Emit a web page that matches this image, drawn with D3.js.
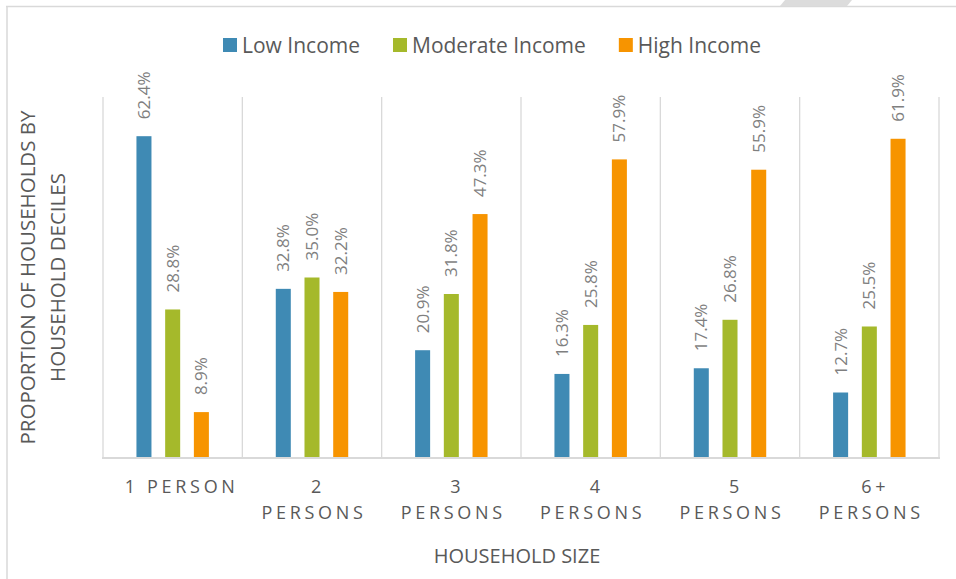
<!DOCTYPE html>
<html lang="en">
<head>
  <meta charset="UTF-8">
  <title>Household size by income</title>
  <script src="https://d3js.org/d3.v7.min.js"></script>
  <style>
    html, body { margin: 0; padding: 0; background: #fff; }
    svg { display: block; font-family: "Open Sans", sans-serif; }
    .cat-label { font-size: 18px; fill: #595959; letter-spacing: 3.7px; text-anchor: middle; }
    .val-label { font-size: 17px; fill: #7f7f7f; }
    .legend-text { font-size: 21px; fill: #595959; }
    .axis-title { font-size: 20.5px; fill: #595959; text-anchor: middle; }
  </style>
</head>
<body>
<svg width="956" height="579"></svg>
<script>
// categories (line breaks as in the original chart)
const categories = ["1 PERSON", "2\nPERSONS", "3\nPERSONS", "4\nPERSONS", "5\nPERSONS", "6+\nPERSONS"];
const series = ["Low Income", "Moderate Income", "High Income"];
const lowIncome      = [62.4, 32.8, 20.9, 16.3, 17.4, 12.7];
const moderateIncome = [28.8, 35.0, 31.8, 25.8, 26.8, 25.5];
const highIncome     = [8.9, 32.2, 47.3, 57.9, 55.9, 61.9];
const colors = ["#3f8ab4", "#a5b92b", "#f79400"];

const values = [lowIncome, moderateIncome, highIncome];

const svg = d3.select("svg");
const grid = "#d9d9d9";

// chart frame + bits of the page above it
svg.append("polygon").attr("points", "785,0 852,0 847,6 780,6").attr("fill", "#dcdcdc");
svg.append("path").attr("d", "M6,6.5H956M7,6V579").attr("stroke", grid).attr("stroke-width", 1.5).attr("fill", "none");

const plot = {left: 103, right: 939, top: 97, bottom: 458};

const x0 = d3.scaleBand().domain(categories).range([plot.left, plot.right]).padding(0);
const x1 = d3.scaleBand().domain(series).range([0, x0.bandwidth()])
  .paddingInner(0.477).paddingOuter(1.165);
const y = d3.scaleLinear().domain([0, 70]).range([plot.bottom, plot.top]);

// vertical gridlines between categories
const bounds = categories.map(c => x0(c)).concat([plot.right]);
svg.append("g").selectAll("line").data(bounds).join("line")
  .attr("x1", d => d).attr("x2", d => d)
  .attr("y1", plot.top).attr("y2", plot.bottom)
  .attr("stroke", grid).attr("stroke-width", 1.3);

// bars
const rows = [];
categories.forEach((c, i) => series.forEach((s, j) => rows.push({c, s, j, v: values[j][i]})));

const g = svg.append("g");
g.selectAll("rect").data(rows).join("rect")
  .attr("x", d => x0(d.c) + x1(d.s))
  .attr("y", d => y(d.v))
  .attr("width", x1.bandwidth())
  .attr("height", d => y(0) - y(d.v))
  .attr("fill", d => colors[d.j]);

// value labels, rotated
g.selectAll("text").data(rows).join("text")
  .attr("class", "val-label")
  .attr("transform", d => {
    const cx = x0(d.c) + x1(d.s) + x1.bandwidth() / 2 + 6;
    return `translate(${cx},${y(d.v) - 17}) rotate(-90)`;
  })
  .text(d => d.v.toFixed(1) + "%");

// baseline
svg.append("line")
  .attr("x1", plot.left - 1).attr("x2", plot.right + 1)
  .attr("y1", y(0)).attr("y2", y(0))
  .attr("stroke", grid).attr("stroke-width", 2);

// category labels
const cats = svg.append("g").selectAll("text").data(categories).join("text")
  .attr("class", "cat-label")
  .attr("x", d => x0(d) + x0.bandwidth() / 2)
  .attr("y", 493);
cats.each(function(d) {
  const lines = d.split("\n");
  const t = d3.select(this);
  lines.forEach((ln, k) => {
    t.append("tspan")
      .attr("x", x0(d) + x0.bandwidth() / 2 + (k === 0 ? (lines.length > 1 ? 6 : 9) : 2))
      .attr("dy", k === 0 ? 0 : 26)
      .text(ln);
  });
});

// axis titles
svg.append("text").attr("class", "axis-title")
  .attr("x", (plot.left + plot.right) / 2 - 4).attr("y", 563)
  .style("font-size", "20px")
  .text("HOUSEHOLD SIZE");

const yt = svg.append("text").attr("class", "axis-title")
  .attr("transform", `translate(0,${(plot.top + plot.bottom) / 2}) rotate(-90)`);
yt.append("tspan").attr("x", 0).attr("y", 35).text("PROPORTION OF HOUSEHOLDS BY");
yt.append("tspan").attr("x", 0).attr("y", 65).text("HOUSEHOLD DECILES");

// legend
const legend = svg.append("g");
let lx = 223;
series.forEach((s, j) => {
  legend.append("rect").attr("x", lx).attr("y", 38).attr("width", 14).attr("height", 14).attr("fill", colors[j]);
  const t = legend.append("text").attr("class", "legend-text")
    .attr("x", lx + 19).attr("y", 52.5).text(s);
  lx += 19 + t.node().getComputedTextLength() + 33;
});
</script>
</body>
</html>
